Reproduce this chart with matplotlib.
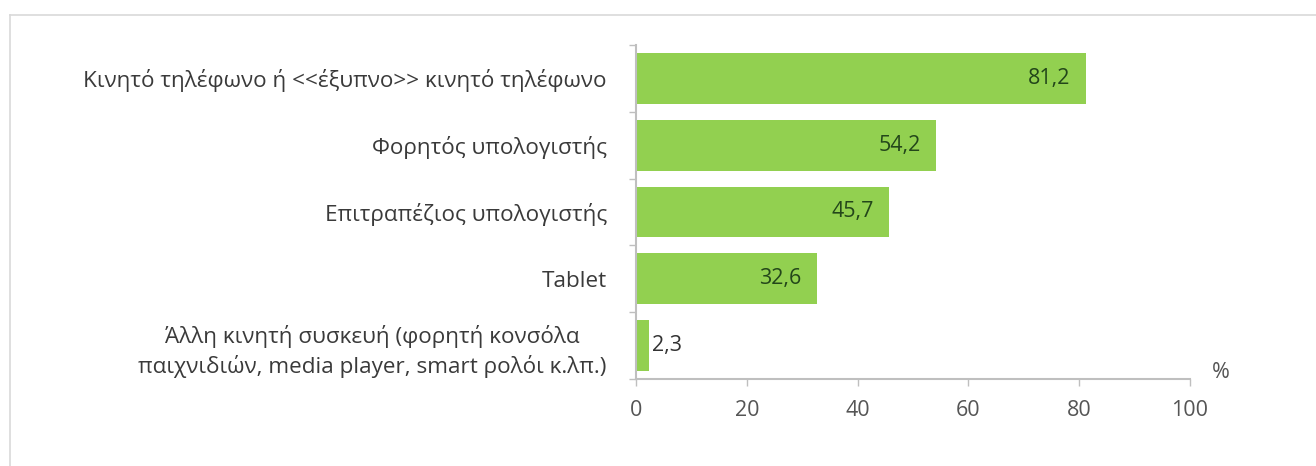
import matplotlib
matplotlib.use("Agg")
import matplotlib.pyplot as plt
from matplotlib.lines import Line2D
import numpy as np

plt.rcParams["font.family"] = ["Open Sans", "DejaVu Sans"]

# Devices used for internet access (% of users)
devices = [
    "Κινητό τηλέφωνο ή <<έξυπνο>> κινητό τηλέφωνο",
    "Φορητός υπολογιστής",
    "Επιτραπέζιος υπολογιστής",
    "Tablet",
    "Άλλη κινητή συσκευή (φορητή κονσόλα\nπαιχνιδιών, media player, smart ρολόι κ.λπ.)",
]
shares = [81.2, 54.2, 45.7, 32.6, 2.3]
x_ticks = [0, 20, 40, 60, 80, 100]

BAR = "#92d050"
AXIS = "#bfbfbf"
LABEL = "#3a3a3a"
TICK = "#555555"
VALUE = "#23461a"

W, H = 1316, 466
fig = plt.figure(figsize=(W / 100, H / 100), dpi=100)
fig.patch.set_facecolor("white")

# light frame around the chart area (runs off the right and bottom edges)
fig.add_artist(Line2D([10 / W, 1.0], [1 - 15 / H, 1 - 15 / H], color="#d9d9d9", lw=1.2))
fig.add_artist(Line2D([10 / W, 10 / W], [0.0, 1 - 15 / H], color="#d9d9d9", lw=1.2))

ax = fig.add_axes([636 / W, 1 - 379 / H, (1190 - 636) / W, (379 - 45) / H])
y = np.arange(len(devices))
ax.barh(y, shares, height=0.76, color=BAR, zorder=2)

ax.set_xlim(0, 100)
ax.set_ylim(len(devices) - 0.5, -0.5)
ax.set_xticks(x_ticks)
ax.set_xticklabels([str(t) for t in x_ticks], fontsize=15.5, color=TICK)
ax.tick_params(axis="x", length=5, width=1, color=AXIS, pad=10)

ax.set_yticks(y)
ax.set_yticklabels(devices, fontsize=16.2, color=LABEL, ha="right",
                   multialignment="center", linespacing=1.4)
ax.tick_params(axis="y", which="major", length=0, pad=21)
ax.set_yticks(np.arange(-0.5, len(devices)), minor=True)
ax.tick_params(axis="y", which="minor", length=5, width=1, color=AXIS)

for s in ("top", "right"):
    ax.spines[s].set_visible(False)
for s in ("left", "bottom"):
    ax.spines[s].set_color(AXIS)
    ax.spines[s].set_linewidth(1.5)

# value labels: inside the bar end, outside for very short bars
for yi, v in zip(y, shares):
    txt = f"{v:.1f}".replace(".", ",")
    if v > 10:
        ax.text(v - 2.8, yi, txt, ha="right", va="center", fontsize=15.5, color=VALUE, zorder=3)
    else:
        ax.text(v + 0.5, yi, txt, ha="left", va="center", fontsize=15.5, color="#333333", zorder=3)

fig.text(1221 / W, 1 - 372 / H, "%", ha="center", va="center", fontsize=15.5, color=TICK)

fig.savefig("out.png", dpi=100, facecolor="white")
